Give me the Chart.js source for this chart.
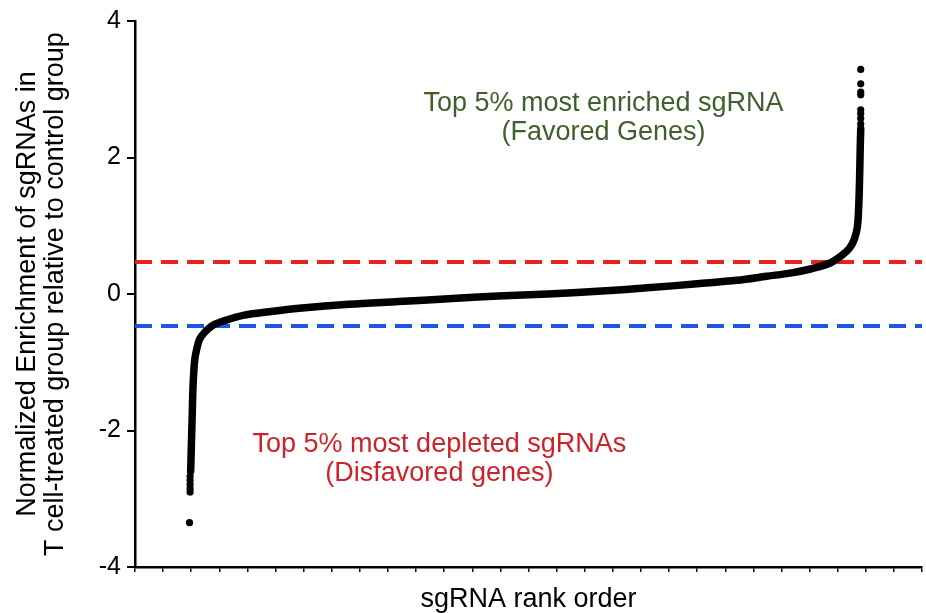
<!DOCTYPE html>
<html>
<head>
<meta charset="utf-8">
<script src="https://cdn.jsdelivr.net/npm/chart.js@4.4.1/dist/chart.umd.min.js"></script>
<style>
  html, body { margin: 0; padding: 0; background: #fff; }
  #wrap { width: 926px; height: 613px; position: relative; }
</style>
</head>
<body>
<div id="wrap"><canvas id="c"></canvas></div>
<script>
// sgRNA rank plot — sorted normalized enrichment, with ±5% cut-off lines.

// main ranked curve (rank units along x, enrichment on y)
const rankX = [1.98, 2.0, 2.02, 2.04, 2.06, 2.09, 2.13, 2.2, 2.3, 2.48, 2.76, 3.19, 3.89, 4.78, 5.84,
  7.61, 9.38, 11.15, 12.92, 14.69, 16.46, 18.23, 20.0, 21.42, 22.48, 23.36, 24.07, 24.71, 25.13,
  25.42, 25.59, 25.7, 25.75, 25.78, 25.8, 25.82];
const enrichY = [-2.6, -2.3, -2.0, -1.7, -1.4, -1.15, -0.95, -0.8, -0.66, -0.56, -0.46, -0.39, -0.31,
  -0.26, -0.21, -0.15, -0.11, -0.07, -0.03, 0.0, 0.04, 0.09, 0.15, 0.2, 0.26, 0.31, 0.37, 0.45,
  0.56, 0.67, 0.8, 0.98, 1.3, 1.7, 2.1, 2.42];

// isolated dots at both tails
const tailX = [1.94, 1.96, 1.96, 1.96, 1.96, 1.96, 25.82, 25.82, 25.82, 25.82, 25.82, 25.82, 25.82, 25.82];
const tailY = [-3.35, -2.9, -2.85, -2.79, -2.73, -2.67, 2.49, 2.57, 2.64, 2.70, 2.92, 2.96, 3.08, 3.29];

// cut-off lines (top / bottom 5%)
const cutUpper = 0.47;
const cutLower = -0.47;
const rankRange = [0, 28];
const yTicks = [-4, -2, 0, 2, 4];

const notes = [
  { lines: ['Top 5% most enriched sgRNA', '(Favored Genes)'], x: 16.67, y: 2.79, color: '#3f5f2c' },
  { lines: ['Top 5% most depleted sgRNAs', '(Disfavored genes)'], x: 10.83, y: -2.2, color: '#cc2229' },
];

const FONT = '"Liberation Sans", Arial, Helvetica, sans-serif';

const notesPlugin = {
  id: 'notes',
  afterDatasetsDraw(chart) {
    const { ctx, scales: { x, y } } = chart;
    ctx.save();
    ctx.font = `27px ${FONT}`;
    ctx.textAlign = 'center';
    ctx.textBaseline = 'middle';
    for (const n of notes) {
      const px = x.getPixelForValue(n.x);
      const py = y.getPixelForValue(n.y);
      ctx.fillStyle = n.color;
      n.lines.forEach((t, i) => ctx.fillText(t, px, py + i * 29));
    }
    ctx.restore();
  },
};

const curve = rankX.map((v, i) => ({ x: v, y: enrichY[i] }));
const tails = tailX.map((v, i) => ({ x: v, y: tailY[i] }));

new Chart(document.getElementById('c'), {
  type: 'scatter',
  data: {
    datasets: [
      {
        data: curve,
        showLine: true,
        borderColor: '#000',
        borderWidth: 7.5,
        borderCapStyle: 'round',
        borderJoinStyle: 'round',
        tension: 0.35,
        pointRadius: 0,
      },
      {
        data: tails,
        showLine: false,
        backgroundColor: '#000',
        borderWidth: 0,
        pointRadius: 3.6,
      },
      {
        data: [{ x: rankRange[0], y: cutUpper }, { x: rankRange[1], y: cutUpper }],
        showLine: true,
        borderColor: '#e8231f',
        borderWidth: 4,
        borderDash: [17, 9],
        pointRadius: 0,
      },
      {
        data: [{ x: rankRange[0], y: cutLower }, { x: rankRange[1], y: cutLower }],
        showLine: true,
        borderColor: '#1f55e6',
        borderWidth: 4,
        borderDash: [17, 9],
        pointRadius: 0,
      },
    ],
  },
  options: {
    responsive: true,
    maintainAspectRatio: false,
    animation: false,
    layout: { padding: { left: 0, right: 0, top: 20, bottom: 0 } },
    plugins: {
      legend: { display: false },
      tooltip: { enabled: false },
    },
    scales: {
      x: {
        type: 'linear',
        min: rankRange[0],
        max: rankRange[1],
        ticks: { display: false, stepSize: 1 },
        grid: { drawOnChartArea: false, drawTicks: true, tickLength: 5, color: '#000', lineWidth: 1.5 },
        border: { display: true, color: '#000', width: 2.5 },
        title: {
          display: true,
          text: 'sgRNA rank order',
          color: '#000',
          font: { family: FONT, size: 27, lineHeight: 1 },
          padding: { top: 0, bottom: 0 },
        },
        afterFit(scale) { scale.height = 46; scale.paddingRight = 0; },
      },
      y: {
        min: -4,
        max: 4,
        afterBuildTicks(scale) { scale.ticks = yTicks.map(v => ({ value: v })); },
        ticks: { color: '#000', font: { family: FONT, size: 25 }, padding: 6 },
        grid: { drawOnChartArea: false, drawTicks: true, tickLength: 8, color: '#000', lineWidth: 2 },
        border: { display: true, color: '#000', width: 2.5 },
        title: {
          display: true,
          text: ['Normalized Enrichment of sgRNAs in', 'T cell-treated group relative to control group'],
          color: '#000',
          font: { family: FONT, size: 27, lineHeight: 1.02 },
          padding: { top: 14, bottom: 0 },
        },
        afterFit(scale) { scale.width = 135; },
      },
    },
  },
  plugins: [notesPlugin],
});
</script>
</body>
</html>
